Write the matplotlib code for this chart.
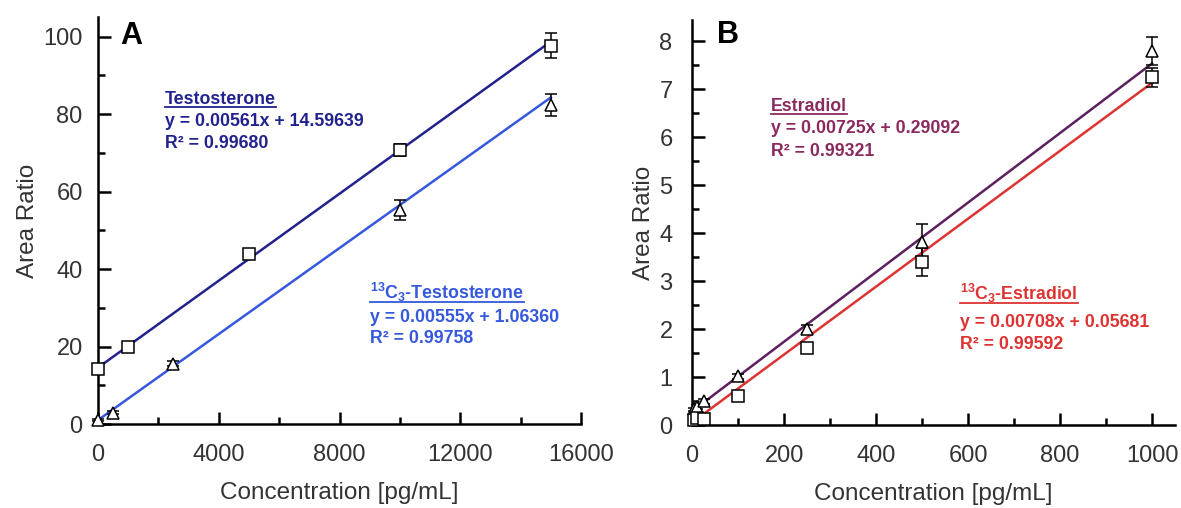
import numpy as np
import matplotlib
matplotlib.use('Agg')
import matplotlib.pyplot as plt
from matplotlib.ticker import MultipleLocator

plt.rcParams['font.family'] = ['Liberation Sans', 'DejaVu Sans']
plt.rcParams['mathtext.fontset'] = 'custom'
plt.rcParams['mathtext.rm'] = 'Liberation Sans'
plt.rcParams['mathtext.bf'] = 'Liberation Sans:bold'

# Panel A: testosterone
conc_t = [0, 1000, 5000, 10000, 15000]
ratio_t = [14.2, 19.8, 43.8, 70.7, 97.7]
err_t = [0.5, 0.8, 1.0, 1.5, 3.3]
conc_t13 = [0, 500, 2500, 10000, 15000]
ratio_t13 = [1.0, 3.0, 15.6, 55.2, 82.3]
err_t13 = [0.3, 0.4, 0.6, 2.6, 2.8]
fit_t = (0.00561, 14.59639, 0.99680)
fit_t13 = (0.00555, 1.06360, 0.99758)

# Panel B: estradiol
conc_e = [5, 10, 25, 100, 250, 500, 1000]
ratio_e = [0.33, 0.38, 0.5, 1.02, 2.0, 3.82, 7.8]
err_e = [0.03, 0.04, 0.05, 0.05, 0.08, 0.38, 0.3]
conc_e13 = [5, 10, 25, 100, 250, 500, 1000]
ratio_e13 = [0.1, 0.15, 0.12, 0.6, 1.6, 3.4, 7.25]
err_e13 = [0.03, 0.03, 0.04, 0.06, 0.08, 0.3, 0.2]
fit_e = (0.00725, 0.29092, 0.99321)
fit_e13 = (0.00708, 0.05681, 0.99592)

navy = '#22228e'
blue = '#3558dc'
plum = '#5c1f5f'
plum_txt = '#8a2a5e'
red = '#dd3333'
tick_col = '#333333'


def underline(fig, ax, txt, color):
    fig.canvas.draw()
    bb = txt.get_window_extent().transformed(ax.transAxes.inverted())
    ax.plot([bb.x0, bb.x1], [bb.y0 + 0.004, bb.y0 + 0.004], transform=ax.transAxes,
            color=color, lw=1.3, clip_on=False)


def series(ax, x, y, e, fit, xmax, marker, color):
    xs = np.array([0, xmax])
    ax.plot(xs, fit[0] * xs + fit[1], color=color, lw=1.8, zorder=2)
    ax.errorbar(x, y, yerr=e, fmt=marker, mfc='white', mec='black', mew=1.1, ms=8,
                ecolor='black', elinewidth=1.1, capsize=4, capthick=1.1, zorder=3,
                clip_on=False)


def labels(fig, ax, x, ys, title, fit, color, title_color=None):
    tc = title_color or color
    kw = dict(transform=ax.transAxes, color=tc, fontsize=12.8, fontweight='bold', va='center')
    t = ax.text(x, ys[0], title, **kw)
    ax.text(x, ys[1], f'y = {fit[0]:.5f}x + {fit[1]:.5f}', **kw)
    ax.text(x, ys[2], f'R² = {fit[2]:.5f}', **kw)
    underline(fig, ax, t, tc)


def style(ax, ypad):
    for s in ['top', 'right']:
        ax.spines[s].set_visible(False)
    for s in ['left', 'bottom']:
        ax.spines[s].set_linewidth(1.8)
    ax.tick_params(which='major', direction='in', length=9, width=1.8,
                   labelsize=17, labelcolor=tick_col)
    ax.tick_params(axis='x', which='major', pad=14)
    ax.tick_params(axis='y', which='major', pad=ypad)
    ax.tick_params(which='minor', direction='in', length=5, width=1.8)
    ax.set_xlabel('Concentration [pg/mL]', fontsize=17.5, color=tick_col, labelpad=12)
    ax.set_ylabel('Area Ratio', fontsize=17.5, color=tick_col, labelpad=3)


fig = plt.figure(figsize=(11.81, 5.08), dpi=100)
axA = fig.add_axes([0.083, 0.165, 0.409, 0.801])
axB = fig.add_axes([0.586, 0.163, 0.409, 0.798])

series(axA, conc_t, ratio_t, err_t, fit_t, 15000, 's', navy)
series(axA, conc_t13, ratio_t13, err_t13, fit_t13, 15000, '^', blue)
axA.set_xlim(0, 16000)
axA.set_ylim(0, 105)
axA.xaxis.set_major_locator(MultipleLocator(4000))
axA.xaxis.set_minor_locator(MultipleLocator(2000))
axA.yaxis.set_major_locator(MultipleLocator(20))
axA.yaxis.set_minor_locator(MultipleLocator(10))
style(axA, 11)
axA.text(0.045, 0.953, 'A', transform=axA.transAxes, fontsize=22, fontweight='bold', va='center')

series(axB, conc_e, ratio_e, err_e, fit_e, 1000, '^', plum)
series(axB, conc_e13, ratio_e13, err_e13, fit_e13, 1000, 's', red)
axB.set_xlim(0, 1050)
axB.set_ylim(0, 8.45)
axB.xaxis.set_major_locator(MultipleLocator(200))
axB.xaxis.set_minor_locator(MultipleLocator(100))
axB.yaxis.set_major_locator(MultipleLocator(1))
axB.yaxis.set_minor_locator(MultipleLocator(0.5))
style(axB, 14)
axB.text(0.052, 0.963, 'B', transform=axB.transAxes, fontsize=22, fontweight='bold', va='center')

labels(fig, axA, 0.139, [0.797, 0.745, 0.69], 'Testosterone', fit_t, navy)
labels(fig, axA, 0.563, [0.324, 0.263, 0.211],
       r'$\mathbf{^{13}C_{3}}$-Testosterone', fit_t13, blue)
labels(fig, axB, 0.164, [0.785, 0.731, 0.674], 'Estradiol', fit_e, plum, plum_txt)
labels(fig, axB, 0.555, [0.326, 0.254, 0.198],
       r'$\mathbf{^{13}C_{3}}$-Estradiol', fit_e13, red)

fig.savefig('out.png', dpi=100)
